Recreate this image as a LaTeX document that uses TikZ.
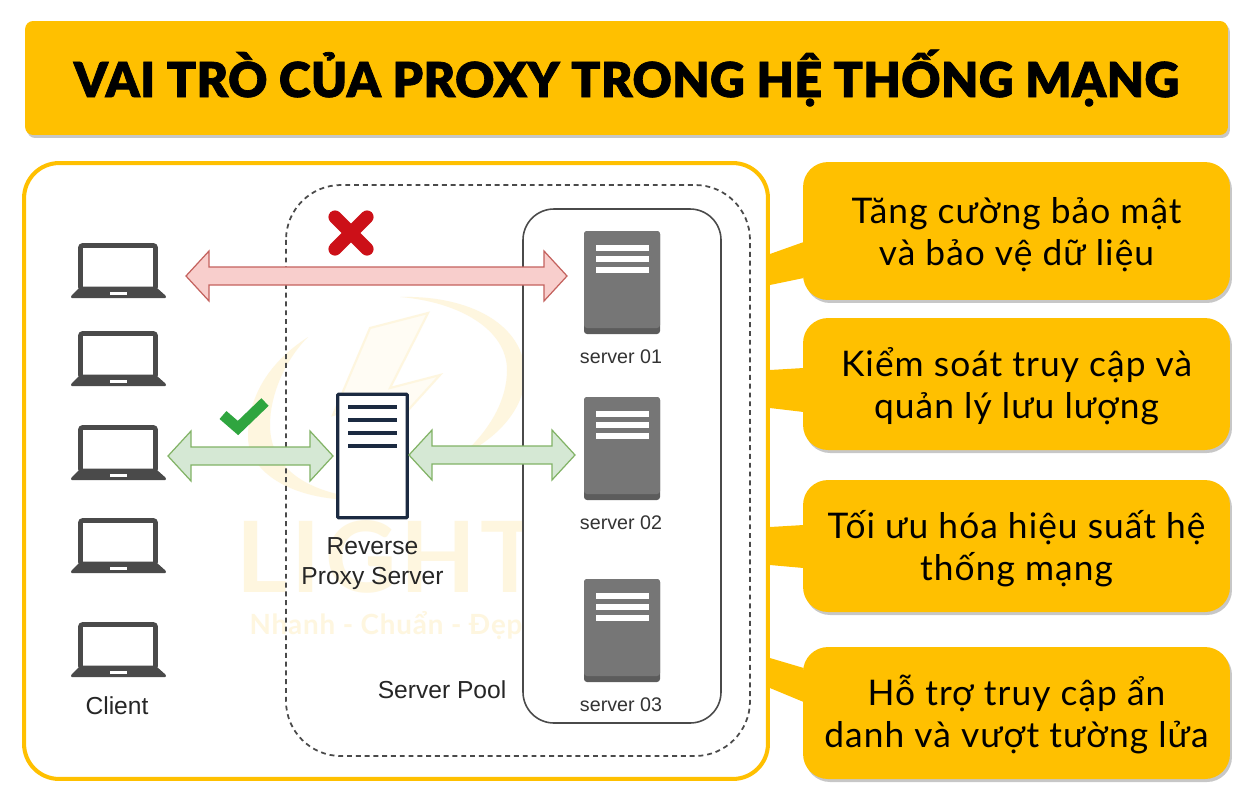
\documentclass[tikz,border=0pt]{standalone}
\usepackage{fontspec}
\setmainfont{Liberation Sans}
\newfontfamily\bodyfont[LetterSpace=3.0]{Lato}
\newfontfamily\headfont[LetterSpace=1.0,FakeBold=1.5]{Lato Black}
\newfontfamily\markfont[LetterSpace=4.0]{Lato}
\usetikzlibrary{shapes,calc,shadows}
\definecolor{amber}{HTML}{FFC000}
\definecolor{paleamber}{HTML}{FEF6DF}
\definecolor{redfill}{HTML}{F8CECC}
\definecolor{redline}{HTML}{C4625E}
\definecolor{crossred}{HTML}{CC1018}
\definecolor{greenfill}{HTML}{D5E8D4}
\definecolor{greenline}{HTML}{82B366}
\definecolor{tickgreen}{HTML}{2FA53F}
\definecolor{navy}{HTML}{1B2A41}
\definecolor{darkgrey}{HTML}{4A4A4A}
\definecolor{servergrey}{HTML}{767676}
\definecolor{serverbase}{HTML}{5C5C5C}
\tikzset{
	softshadow/.style={drop shadow={shadow xshift=0.04cm,shadow yshift=-0.06cm,fill=black,opacity=0.22}},
	titlebox/.style={fill=amber,rounded corners=0.16cm,minimum width=24.06cm,minimum height=2.28cm,softshadow,font=\headfont\fontsize{27.4}{33}\selectfont},
	callout/.style={fill=amber,rounded corners=0.5cm,minimum width=8.54cm,align=center,softshadow,font=\bodyfont\fontsize{20.1}{24.4}\selectfont},
	calltail/.style={fill=amber},
	panelbox/.style={draw=amber,line width=2.3pt,fill=white,rounded corners=0.7cm,minimum width=14.88cm,minimum height=12.32cm},
	laptopnode/.style={minimum width=1.9cm,minimum height=1.1cm},
	serverbox/.style={fill=serverbase,rounded corners=0.06cm,minimum width=1.52cm,minimum height=2.06cm},
	serverlabel/.style={font=\fontsize{11.2}{13}\selectfont,text=black!80},
	difflabel/.style={font=\fontsize{14}{17}\selectfont,text=black!85,align=center},
	redarrow/.style={draw=redline,fill=redfill,line width=0.7pt,line join=miter},
	greenarrow/.style={draw=greenline,fill=greenfill,line width=0.7pt,line join=miter}
}
\newcommand{\calltext}[2]{\rule{0pt}{21pt}#1\\#2\rule[-5.7pt]{0pt}{5.7pt}}
\newcommand{\blockarrow}[3]{
	\draw [#1] (#2) -- ($(#2)+(23,25)$) -- ($(#2)+(23,9)$) -- ($(#3)+(-23,9)$) -- ($(#3)+(-23,25)$) -- (#3)
		-- ($(#3)+(-23,-25)$) -- ($(#3)+(-23,-9)$) -- ($(#2)+(23,-9)$) -- ($(#2)+(23,-25)$) -- cycle;
}
\begin{document}
\begin{tikzpicture}[x=0.02cm,y=0.02cm]
	\tikzstyle{every node}+=[inner sep=0pt]
	\useasboundingbox (0,0) rectangle (1256,-802);
	\fill [white] (0,0) rectangle (1256,-802);
	% heading
	\node [titlebox] (heading) at (626.5,-78) {VAI TRÒ CỦA PROXY TRONG HỆ THỐNG MẠNG};
	% callouts
	\node [callout,minimum height=2.76cm] (secure) at (1016.5,-231) {\calltext{Tăng cường bảo mật}{và bảo vệ dữ liệu}};
	\node [callout,minimum height=2.64cm] (access) at (1016.5,-384) {\calltext{Kiểm soát truy cập và}{quản lý lưu lượng}};
	\node [callout,minimum height=2.64cm] (perform) at (1016.5,-546) {\calltext{Tối ưu hóa hiệu suất hệ}{thống mạng}};
	\node [callout,minimum height=2.64cm] (hide) at (1016.5,-713) {\calltext{Hỗ trợ truy cập ẩn}{danh và vượt tường lửa}};
	% panel
	\node [panelbox] (panel) at (396,-471) {};
	\fill [calltail] ($(secure.west)+(1,-11)$) -- (panel.east |- 0,-254) -- (panel.east |- 0,-285) -- ($(secure.west)+(1,-47)$) -- cycle;
	\fill [calltail] ($(access.west)+(1,16)$) -- (panel.east |- 0,-370) -- (panel.east |- 0,-408) -- ($(access.west)+(1,-28)$) -- cycle;
	\fill [calltail] ($(perform.west)+(1,21)$) -- (panel.east |- 0,-527) -- (panel.east |- 0,-565) -- ($(perform.west)+(1,-22)$) -- cycle;
	\fill [calltail] ($(hide.west)+(1,45)$) -- (panel.east |- 0,-658) -- (panel.east |- 0,-688) -- ($(hide.west)+(1,11)$) -- cycle;
	% watermark
	\fill [paleamber] (308,-337) .. controls (265,-365) and (248,-400) .. (248,-437) .. controls (248,-475) and (300,-505) .. (372,-499) .. controls (310,-495) and (270,-470) .. (270,-425) .. controls (270,-395) and (285,-360) .. (308,-337);
	\fill [paleamber] (400,-297) .. controls (470,-295) and (525,-325) .. (525,-375) .. controls (525,-410) and (495,-440) .. (462,-455) .. controls (490,-430) and (507,-400) .. (507,-370) .. controls (507,-330) and (460,-302) .. (400,-297);
	\draw [paleamber,line width=1.2pt,fill=paleamber!35] (428,-313) -- (370,-328) -- (333,-415) -- (362,-407) -- (352,-472) -- (440,-375) -- (390,-388) -- cycle;
	\node [text=paleamber,font=\markfont\bfseries\fontsize{56}{60}\selectfont] (brand) at (388,-557) {LIGHT};
	\node [text=paleamber,font=\bodyfont\bfseries\fontsize{15.8}{18}\selectfont] (slogan) at (386,-626) {Nhanh - Chuẩn - Đẹp};
	% server pool
	\draw [dashed,dash pattern=on 2.8pt off 2.2pt,line width=1pt,darkgrey,rounded corners=1.1cm] (286,-185) rectangle (750,-756);
	\draw [line width=0.9pt,darkgrey,fill=white,rounded corners=0.62cm] (523,-209) rectangle (721,-723);
	\node [difflabel] (pool) at (442,-690) {Server Pool};
	\foreach \name/\top/\lab/\num in {srvone/231/357/01,srvtwo/397/523/02,srvthree/579/705/03}{
		\node [serverbox] (\name) at (622,-\top-51.5) {};
		\fill [servergrey,rounded corners=0.06cm] (584,-\top) rectangle (660,-\top-97);
		\fill [white] (596,-\top-14) rectangle (649,-\top-20);
		\fill [white] (596,-\top-25) rectangle (649,-\top-31);
		\fill [white] (596,-\top-36) rectangle (649,-\top-42);
		\node [serverlabel] (\name label) at (621,-\lab) {server \num};
	}
	% clients
	\foreach \name/\top in {lapone/243,laptwo/331,lapthree/425,lapfour/518,lapfive/622}{
		\node [laptopnode] (\name) at (118.5,-\top-27.5) {};
		\draw [darkgrey,line width=2.6pt,rounded corners=0.04cm] (80.5,-\top-2.5) rectangle (155.5,-\top-46);
		\fill [darkgrey,rounded corners=0.02cm] (79,-\top-45) -- (157,-\top-45) -- (166,-\top-53) -- (166,-\top-55) -- (71,-\top-55) -- (71,-\top-53) -- cycle;
		\fill [white] (110,-\top-49) rectangle (127,-\top-52);
	}
	\node [difflabel] (client) at (117,-706) {Client};
	% proxy
	\node [draw=navy,line width=1.9pt,fill=white,rounded corners=0.02cm,minimum width=1.39cm,minimum height=2.47cm] (proxy) at (372.5,-456) {};
	\foreach \y in {407,420,433,446}{
		\draw [navy,line width=2pt] (348,-\y) -- (397,-\y);
	}
	\node [difflabel] (proxylabel) at (372.5,-564) {Reverse\\Proxy Server};
	% arrows
	\coordinate (redleft) at (186,-276);
	\coordinate (redright) at (567,-276);
	\coordinate (clientright) at (168,-456);
	\coordinate (proxyleft) at (333,-456);
	\coordinate (proxyright) at (409,-455);
	\coordinate (serverleft) at (575,-455);
	\blockarrow{redarrow}{redleft}{redright}
	\blockarrow{greenarrow}{clientright}{proxyleft}
	\blockarrow{greenarrow}{proxyright}{serverleft}
	% marks
	\draw [crossred,line width=7.5pt,line cap=round] (335,-217) -- (367,-249);
	\draw [crossred,line width=7.5pt,line cap=round] (367,-217) -- (335,-249);
	\draw [tickgreen,line width=6pt,line join=miter] (223,-415) -- (238,-428) -- (265,-402);
\end{tikzpicture}
\end{document}
